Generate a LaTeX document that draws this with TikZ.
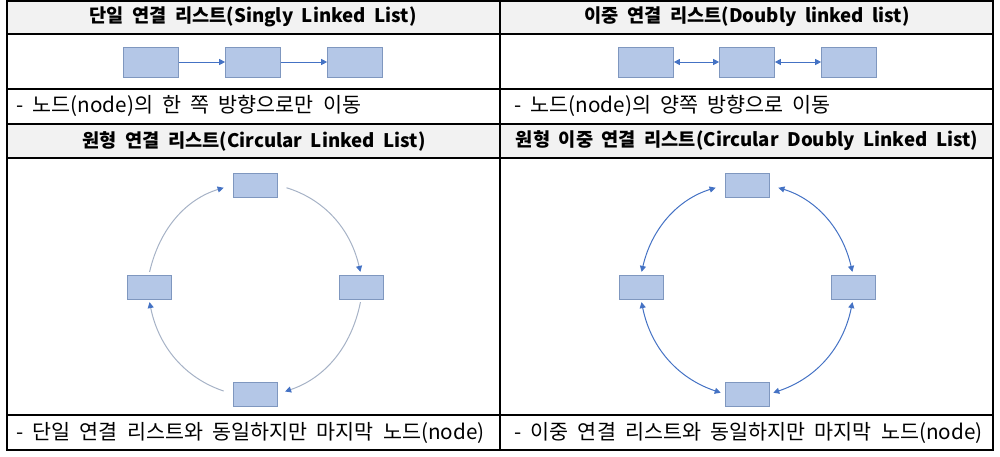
\documentclass[tikz,border=0pt]{standalone}
\usepackage{fontspec}
\setmainfont{Noto Sans CJK KR}[WordSpace=2]
\usetikzlibrary{arrows.meta}

\definecolor{boxfill}{RGB}{180,199,231}
\definecolor{boxline}{RGB}{127,151,191}
\definecolor{headfill}{RGB}{242,242,242}
\definecolor{linkblue}{RGB}{68,114,196}
\definecolor{linkgray}{RGB}{166,178,198}

\tikzset{
    bigbox/.style={draw=boxline, fill=boxfill, line width=0.75, inner sep=0, minimum width=41pt, minimum height=22.5pt},
    smallbox/.style={draw=boxline, fill=boxfill, line width=0.75, inner sep=0, minimum width=33pt, minimum height=18pt},
    headtext/.style={inner sep=0.75pt, font=\fontsize{14}{17}\selectfont\bfseries},
    notetext/.style={anchor=west, inner sep=0.75pt, font=\fontsize{15.5}{18}\selectfont},
    tip/.tip={Triangle[length=4.5pt, width=4.5pt]},
    onelink/.style={draw=linkblue, line width=0.75, -tip},
    twolink/.style={draw=linkblue, line width=0.75, tip-tip},
    roundlink/.style={draw=linkgray, line width=0.75, -{tip[color=linkblue]}}
}

\begin{document}
\begin{tikzpicture}[x=0.75pt,y=0.75pt,yscale=-1,xscale=1]
        \useasboundingbox (0,0) rectangle (1000,457);

        %Shape: Rectangle [header rows]
        \fill [headfill] (7,1) rectangle (993,34);
        \fill [headfill] (7,124) rectangle (993,158);
        %Straight Lines [table]
        \draw [line width=1.1] (7,1) rectangle (993,450);
        \draw [line width=1.1] (500,1) -- (500,450);
        \draw [line width=1.1] (7,34) -- (993,34);
        \draw [line width=1.1] (7,89) -- (993,89);
        \draw [line width=1.1] (7,124) -- (993,124);
        \draw [line width=1.1] (7,158) -- (993,158);
        \draw [line width=1.1] (7,415) -- (993,415);

        % Text Node
        \node [headtext] (h1) at (253,17) {단일 연결 리스트(Singly Linked List)};
        % Text Node
        \node [headtext] (h2) at (747,17) {이중 연결 리스트(Doubly linked list)};
        % Text Node
        \node [headtext] (h3) at (254,141) {원형 연결 리스트(Circular Linked List)};
        % Text Node
        \node [headtext] (h4) at (747,141) {원형 이중 연결 리스트(Circular Doubly Linked List)};

        %Shape: Rectangle [singly]
        \node [bigbox] (s1) at (151,62) {};
        \node [bigbox] (s2) at (253,62) {};
        \node [bigbox] (s3) at (355,62) {};
        \draw [onelink] (s1) -- (s2);
        \draw [onelink] (s2) -- (s3);

        %Shape: Rectangle [doubly]
        \node [bigbox] (d1) at (646,62) {};
        \node [bigbox] (d2) at (747,62) {};
        \node [bigbox] (d3) at (849,62) {};
        \draw [twolink] (d1) -- (d2);
        \draw [twolink] (d2) -- (d3);

        %Shape: Rectangle [circular]
        \node [smallbox] (c1) at (255,185) {};
        \node [smallbox] (c2) at (361,287) {};
        \node [smallbox] (c3) at (255,394) {};
        \node [smallbox] (c4) at (149,287) {};
        %Curve Lines
        \draw [roundlink, shorten <=2pt, shorten >=7pt] (c4.north) to [bend right=30] (c1.west);
        \draw [roundlink, shorten <=7pt, shorten >=2pt] (c1.east) to [bend right=30] (c2.north);
        \draw [roundlink, shorten <=2pt, shorten >=6pt] (c2.south) to [bend right=30] (c3.east);
        \draw [roundlink, shorten <=7pt, shorten >=2pt] (c3.west) to [bend right=30] (c4.south);

        %Shape: Rectangle [circular doubly]
        \node [smallbox] (r1) at (747,185) {};
        \node [smallbox] (r2) at (853,287) {};
        \node [smallbox] (r3) at (747,394) {};
        \node [smallbox] (r4) at (641,287) {};
        %Curve Lines
        \draw [twolink, shorten <=2pt, shorten >=7pt] (r4.north) to [bend right=30] (r1.west);
        \draw [twolink, shorten <=7pt, shorten >=2pt] (r1.east) to [bend right=30] (r2.north);
        \draw [twolink, shorten <=2pt, shorten >=3pt] (r2.south) to [bend right=30] (r3.east);
        \draw [twolink, shorten <=3pt, shorten >=2pt] (r3.west) to [bend right=30] (r4.south);

        % Text Node
        \node [notetext] (n1) at (15,106) {- 노드(node)의 한 쪽 방향으로만 이동};
        % Text Node
        \node [notetext] (n2) at (513,106) {- 노드(node)의 양쪽 방향으로 이동};
        % Text Node
        \node [notetext] (n3) at (15,433) {- 단일 연결 리스트와 동일하지만 마지막 노드(node)};
        % Text Node
        \node [notetext] (n4) at (513,433) {- 이중 연결 리스트와 동일하지만 마지막 노드(node)};

    \end{tikzpicture}
\end{document}
